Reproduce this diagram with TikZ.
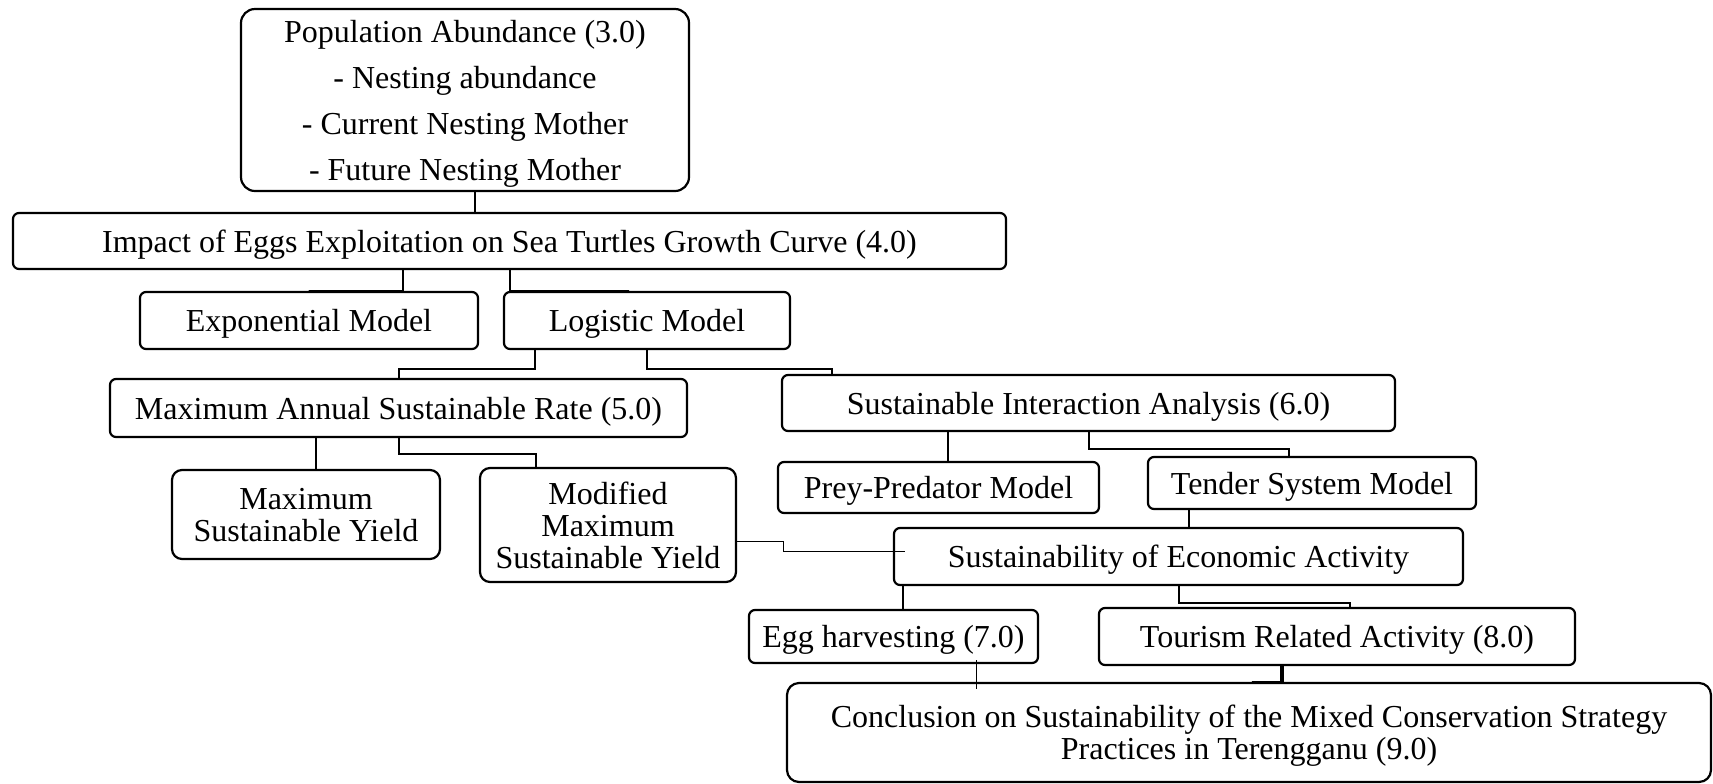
\documentclass[tikz,border=0pt]{standalone}
\usepackage{fontspec}
\setmainfont{Liberation Serif}
\usetikzlibrary{calc}
\begin{document}
\begin{tikzpicture}[x=0.5pt,y=-0.5pt,
  box/.style={draw, line width=1.1pt, rounded corners=3pt, inner sep=0pt,
    text depth=0pt, align=center, font=\fontsize{16}{16}\selectfont},
  link/.style={line width=1pt},
  thinlink/.style={line width=0.5pt},
  boldlink/.style={line width=1.6pt}]
\useasboundingbox (0,0) rectangle (1713,783);

% boxes
\node[box, rounded corners=7pt, minimum width=224pt, minimum height=91pt,
  font=\fontsize{16}{23}\selectfont] (pop) at (465,100)
  {Population Abundance (3.0)\\- Nesting abundance\\- Current Nesting Mother\\- Future Nesting Mother};
\node[box, minimum width=496.5pt, minimum height=28pt] (impact) at (509.5,241)
  {Impact of Eggs Exploitation on Sea Turtles Growth Curve (4.0)};
\node[box, minimum width=169pt, minimum height=28.5pt] (expo) at (309,320.5) {Exponential Model};
\node[box, minimum width=143pt, minimum height=28.5pt] (logi) at (647,320.5) {Logistic Model};
\node[box, minimum width=288.5pt, minimum height=29pt] (masr) at (398.5,408)
  {Maximum Annual Sustainable Rate (5.0)};
\node[box, minimum width=306.5pt, minimum height=28pt] (sia) at (1088.5,403)
  {Sustainable Interaction Analysis (6.0)};
\node[box, rounded corners=5pt, minimum width=134pt, minimum height=44.5pt] (msy) at (306,514.5)
  {Maximum\\Sustainable Yield};
\node[box, rounded corners=5pt, minimum width=128pt, minimum height=57pt] (mmsy) at (608,525)
  {Modified\\Maximum\\Sustainable Yield};
\node[box, minimum width=160.5pt, minimum height=25.5pt] (ppm) at (938.5,487.5) {Prey-Predator Model};
\node[box, minimum width=164pt, minimum height=26pt] (tsm) at (1312,483) {Tender System Model};
\node[box, minimum width=284.5pt, minimum height=28.5pt] (sea) at (1178.5,556.5)
  {Sustainability of Economic Activity};
\node[box, minimum width=144.5pt, minimum height=26.5pt] (egg) at (893.5,636.5) {Egg harvesting (7.0)};
\node[box, minimum width=238pt, minimum height=28.5pt] (tour) at (1337,636.5)
  {Tourism Related Activity (8.0)};
\node[box, rounded corners=6pt, minimum width=462pt, minimum height=49.5pt] (conc) at (1249,732.5)
  {Conclusion on Sustainability of the Mixed Conservation Strategy\\Practices in Terengganu (9.0)};

% connectors
\draw[link] ([shift={(10,0)}]pop.south) -- ([shift={(-34.5,0)}]impact.north);
\draw[link] ([shift={(-106.5,0)}]impact.south) -- ++(0,21) -| (expo.north);
\draw[link] (impact.south) -- ++(0,21) -| ([shift={(-18,0)}]logi.north);
\draw[link] ([shift={(-112,0)}]logi.south) -- ++(0,19) -| (masr.north);
\draw[link] (logi.south) -- ++(0,19) -| ([shift={(-256.5,0)}]sia.north);
\draw[link] ([shift={(-82.5,0)}]masr.south) -- ([shift={(10,0)}]msy.north);
\draw[link] (masr.south) -- ++(0,16) -| ([shift={(-72,0)}]mmsy.north);
\draw[thinlink] ([shift={(0,16)}]mmsy.east) -- ++(46,0) |- ([shift={(12,-5.5)}]sea.west);
\draw[link] ([shift={(-140.5,0)}]sia.south) -- ([shift={(9.5,0)}]ppm.north);
\draw[link] (sia.south) -- ++(0,17) -| ([shift={(-23,0)}]tsm.north);
\draw[link] ([shift={(-123,0)}]tsm.south) -- ([shift={(10.5,0)}]sea.north);
\draw[link] ([shift={(-275.5,0)}]sea.south) -- ([shift={(9.5,0)}]egg.north);
\draw[link] (sea.south) -- ++(0,17) -| ([shift={(13,0)}]tour.north);
\draw[boldlink] ([shift={(-55,0)}]tour.south) -- ++(0,16) -| ([shift={(3,0)}]conc.north);
\draw[thinlink] ([shift={(82.5,-4)}]egg.south) -- ([shift={(-273,7)}]conc.north);
\end{tikzpicture}
\end{document}
